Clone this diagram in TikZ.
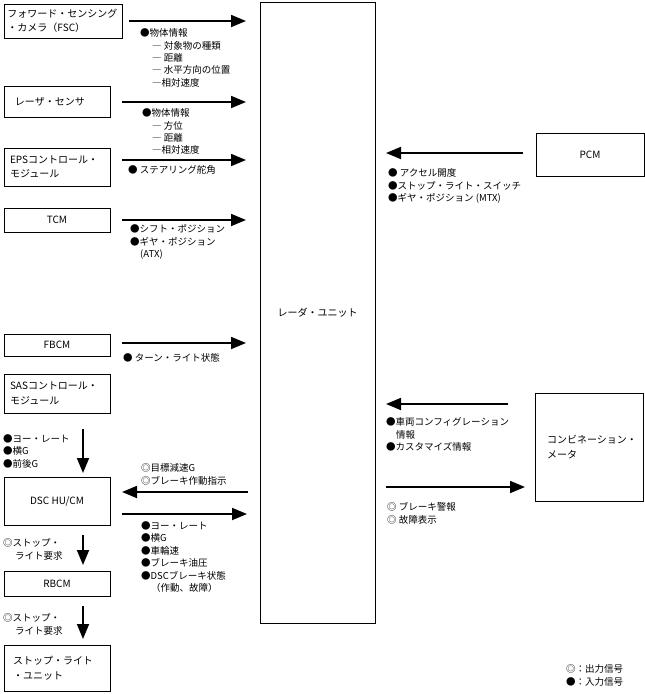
\documentclass[tikz,border=0pt]{standalone}
\usepackage{fontspec}
\setmainfont{Noto Sans CJK JP}
\usetikzlibrary{arrows.meta}
\begin{document}
\begin{tikzpicture}[x=1pt,y=-1pt,
  box/.style={draw, line width=0.8pt, anchor=north west, inner ysep=0pt, outer sep=0pt, font=\fontsize{10}{14.5}\selectfont},
  cbox/.style={box, align=center, inner xsep=0pt},
  lbl/.style={anchor=north west, inner sep=0pt, align=left, font=\fontsize{9.5}{12.4}\selectfont},
  arr/.style={line width=1.8pt, -{Triangle[length=15pt,width=12pt]}},
]
\useasboundingbox (0,0) rectangle (645,694);

% boxes
\node[box, minimum width=118pt, minimum height=34pt, inner xsep=3.5pt, text width=111pt, align=left] (fsc) at (4,4) {フォワード・センシング\\・カメラ（FSC）};
\node[box, minimum width=106pt, minimum height=31pt, inner xsep=11pt, text width=84pt, align=left] (laser) at (4,86) {レーザ・センサ};
\node[box, minimum width=106pt, minimum height=38pt, inner xsep=6pt, text width=94pt, align=left] (eps) at (4,148) {EPSコントロール・\\モジュール};
\node[cbox, minimum width=106pt, minimum height=24pt] (tcm) at (4,208) {TCM};
\node[cbox, minimum width=106pt, minimum height=22pt] (fbcm) at (4,334) {FBCM};
\node[box, minimum width=106pt, minimum height=39pt, inner xsep=6pt, text width=94pt, align=left] (sas) at (4,374) {SASコントロール・\\モジュール};
\node[cbox, minimum width=106pt, minimum height=48pt] (dsc) at (4,477) {DSC HU/CM};
\node[cbox, minimum width=106pt, minimum height=25pt] (rbcm) at (4,571) {RBCM};
\node[box, minimum width=106pt, minimum height=46pt, inner xsep=9pt, text width=88pt, align=left] (stop) at (4,645) {ストップ・ライト\\・ユニット};
\node[cbox, minimum width=115pt, minimum height=621pt] (radar) at (260,2) {レーダ・ユニット};
\node[cbox, minimum width=108pt, minimum height=43pt] (pcm) at (536,133) {PCM};
\node[box, minimum width=108pt, minimum height=108pt, inner xsep=12pt, text width=84pt, align=left] (meter) at (535,393) {コンビネーション・\\メータ};

% arrow anchor coordinates
\coordinate (fscA) at (fsc.east);
\coordinate (laserA) at ([yshift=-0.5pt]laser.east);
\coordinate (epsA) at ([yshift=7pt]eps.east);
\coordinate (tcmA) at (tcm.east);
\coordinate (fbcmA) at ([yshift=2pt]fbcm.east);
\coordinate (dscIn) at ([yshift=9pt]dsc.east);
\coordinate (dscOut) at ([yshift=-13pt]dsc.east);
\coordinate (pcmA) at ([yshift=1.5pt]pcm.west);
\coordinate (meterIn) at ([yshift=43pt]meter.west);
\coordinate (meterOut) at ([yshift=-40pt]meter.west);
\coordinate (sasA) at ([xshift=26pt]sas.south);
\coordinate (dscA) at ([xshift=26pt]dsc.south);
\coordinate (rbcmA) at ([xshift=26pt]rbcm.south);

% connectors
\draw[arr, shorten <=7pt, shorten >=14pt] (fscA) -- (fscA -| radar.west);
\draw[arr, shorten <=12pt, shorten >=14pt] (laserA) -- (laserA -| radar.west);
\draw[arr, shorten <=12pt, shorten >=14pt] (epsA) -- (epsA -| radar.west);
\draw[arr, shorten <=12pt, shorten >=14pt] (tcmA) -- (tcmA -| radar.west);
\draw[arr, shorten <=12pt, shorten >=14pt] (fbcmA) -- (fbcmA -| radar.west);
\draw[arr, shorten <=12pt, shorten >=12pt] (dscIn -| radar.west) -- (dscIn);
\draw[arr, shorten <=12pt, shorten >=13pt] (dscOut) -- (dscOut -| radar.west);
\draw[arr, shorten <=13pt, shorten >=11pt] (pcmA) -- (pcmA -| radar.east);
\draw[arr, shorten <=27pt, shorten >=11pt] (meterIn) -- (meterIn -| radar.east);
\draw[arr, shorten <=11pt, shorten >=10pt] (meterOut -| radar.east) -- (meterOut);
\draw[arr, shorten <=16pt, shorten >=4pt] (sasA) -- (sasA |- dsc.north);
\draw[arr, shorten <=10pt, shorten >=6pt] (dscA) -- (dscA |- rbcm.north);
\draw[arr, shorten <=10pt, shorten >=6pt] (rbcmA) -- (rbcmA |- stop.north);

% labels
\node[lbl] (fscl) at (140,28.5) {●物体情報\\\hspace{12pt}― 対象物の種類\\\hspace{12pt}― 距離\\\hspace{12pt}― 水平方向の位置\\\hspace{12pt}―相対速度};
\node[lbl] (laserl) at (142,108.5) {●物体情報\\\hspace{10pt}― 方位\\\hspace{10pt}― 距離\\\hspace{10pt}―相対速度};
\node[lbl] (epsl) at (128,165.5) {● ステアリング舵角};
\node[lbl] (tcml) at (130,224.5) {●シフト・ポジション\\●ギヤ・ポジション\\\hspace{10pt}(ATX)};
\node[lbl] (fbcml) at (123,353.5) {● ターン・ライト状態};
\node[lbl] (sasl) at (3,434.5) {●ヨー・レート\\●横G\\●前後G};
\node[lbl] (dscinl) at (141,463.5) {◎目標減速G\\◎ブレーキ作動指示};
\node[lbl] (dscoutl) at (141,521.5) {●ヨー・レート\\●横G\\●車輪速\\●ブレーキ油圧\\●DSCブレーキ状態\\\hspace{10pt}（作動、故障）};
\node[lbl] (rbcml) at (3,538.5) {◎ストップ・\\\hspace{12pt}ライト要求};
\node[lbl] (stopl) at (3,613.5) {◎ストップ・\\\hspace{12pt}ライト要求};
\node[lbl] (pcml) at (388,168.5) {● アクセル開度\\●ストップ・ライト・スイッチ\\●ギヤ・ポジション (MTX)};
\node[lbl] (meterinl) at (386,417.5) {●車両コンフィグレーション\\\hspace{10pt}情報\\●カスタマイズ情報};
\node[lbl] (meteroutl) at (387,502.5) {◎ ブレーキ警報\\◎ 故障表示};
\node[lbl] (legend) at (566,664.5) {◎：出力信号\\●：入力信号};
\end{tikzpicture}
\end{document}
